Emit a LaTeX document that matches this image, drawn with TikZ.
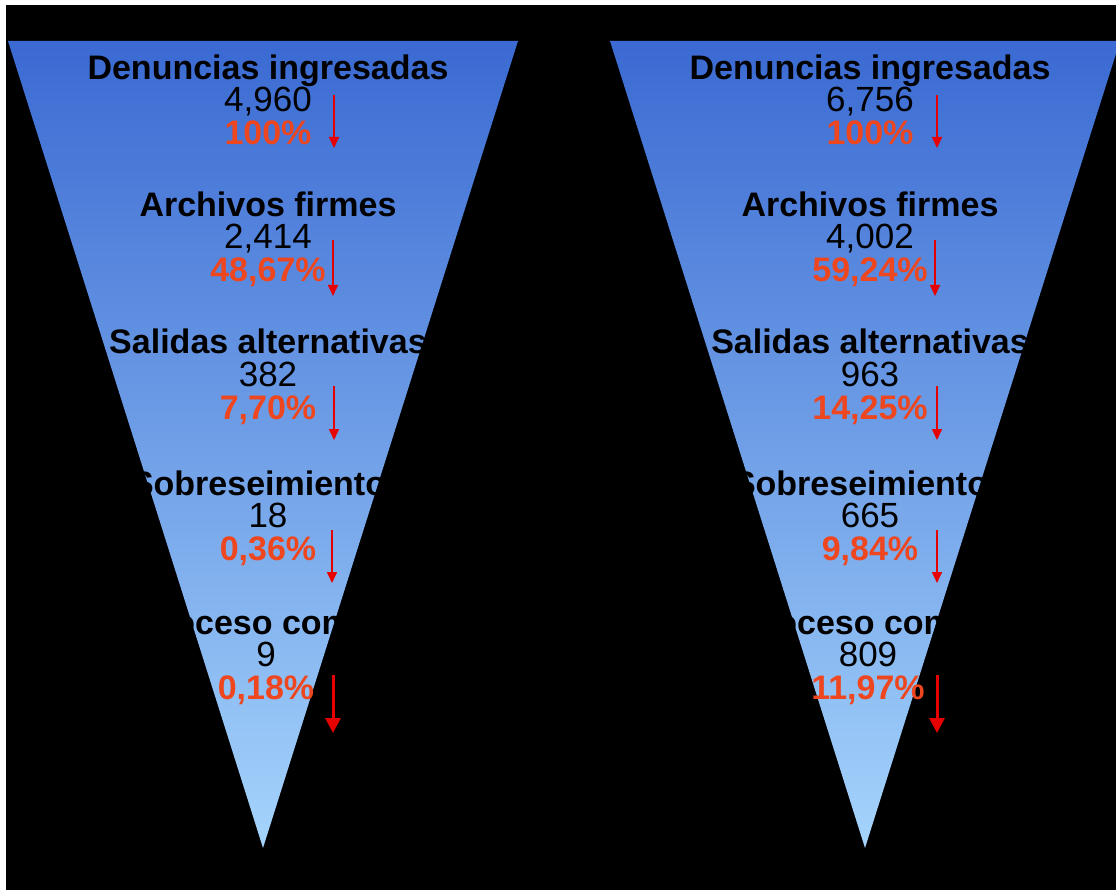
\documentclass[tikz,border=0pt]{standalone}
\usepackage{fontspec}
\setmainfont{Liberation Sans}
\usetikzlibrary{arrows.meta}
\definecolor{funneltop}{RGB}{58,106,210}
\definecolor{funnelmid}{RGB}{118,163,234}
\definecolor{funnelbot}{RGB}{165,212,252}
\definecolor{ink}{RGB}{0,0,0}
\definecolor{pctred}{RGB}{238,70,30}
\definecolor{dropred}{RGB}{230,0,0}
\tikzset{
    stagetitle/.style={anchor=base,inner sep=0,text=ink,font=\fontsize{34}{40}\selectfont\bfseries},
    stagenum/.style={anchor=base,inner sep=0,text=ink,font=\fontsize{35}{40}\selectfont},
    stagepct/.style={anchor=base,inner sep=0,text=pctred,font=\fontsize{34}{40}\selectfont\bfseries},
    drop/.style={dropred,line width=1.6pt,-{Triangle[width=10pt,length=11pt]}},
    bigdrop/.style={dropred,line width=3pt,-{Triangle[width=15pt,length=15pt]}},
}
\newcommand{\funnel}[1] {
    \shade[top color=funneltop,middle color=funnelmid,bottom color=funnelbot]
        ({#1-255},41) -- ({#1+255},41) -- (#1,848) -- cycle;
}
\newcommand{\stage}[6] {
    \node[stagetitle] (#1t) at (#2,#3) {#4};
    \node[stagenum] (#1n) at (#2,{#3+32}) {#5};
    \node[stagepct] (#1p) at (#2,{#3+65}) {#6};
}
\newcommand{\drop}[5] {
    \coordinate (#1a) at (#2,#3);
    \coordinate (#1b) at (#2,#4);
    \draw[#5] (#1a) -- (#1b);
}

\begin{document}
\begin{tikzpicture}[x=1pt,y=-1pt]
        \useasboundingbox (0,0) rectangle (1116,890);
        \fill[black] (6,5) rectangle (1116,890);
        \funnel{263}
        \funnel{865}
        % left funnel
        \stage{la}{268}{80}{Denuncias ingresadas}{4,960}{100\%}
        \stage{lb}{268}{217}{Archivos firmes}{2,414}{48,67\%}
        \stage{lc}{268}{354}{Salidas alternativas}{382}{7,70\%}
        \stage{ld}{268}{495}{Sobreseimientos}{18}{0,36\%}
        \stage{le}{266}{634}{Proceso común}{9}{0,18\%}
        % right funnel
        \stage{ra}{870}{80}{Denuncias ingresadas}{6,756}{100\%}
        \stage{rb}{870}{217}{Archivos firmes}{4,002}{59,24\%}
        \stage{rc}{870}{354}{Salidas alternativas}{963}{14,25\%}
        \stage{rd}{870}{495}{Sobreseimientos}{665}{9,84\%}
        \stage{re}{868}{634}{Proceso común}{809}{11,97\%}
        % arrows
        \drop{lda}{334}{95}{148}{drop}
        \drop{ldb}{333}{240}{296}{drop}
        \drop{ldc}{334}{386}{440}{drop}
        \drop{ldd}{332}{530}{583}{drop}
        \drop{lde}{333}{675}{733}{bigdrop}
        \drop{rda}{937}{95}{148}{drop}
        \drop{rdb}{935}{240}{296}{drop}
        \drop{rdc}{937}{386}{440}{drop}
        \drop{rdd}{937}{530}{583}{drop}
        \drop{rde}{937}{675}{733}{bigdrop}
    \end{tikzpicture}
\end{document}
